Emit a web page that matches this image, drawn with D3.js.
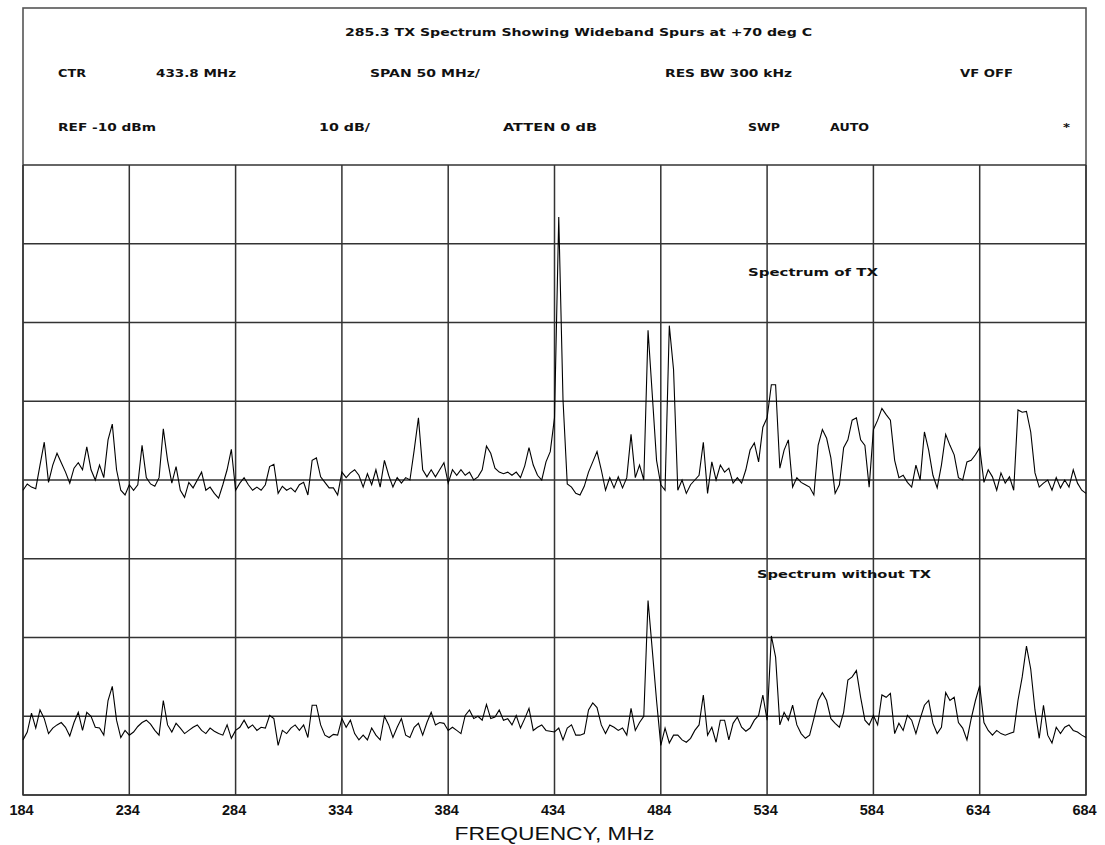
<!DOCTYPE html>
<html>
<head>
<meta charset="utf-8">
<script src="https://cdn.jsdelivr.net/npm/d3@7"></script>
<style>
  html, body { margin: 0; padding: 0; background: #fff; }
  svg { display: block; }
  .hdr { font-family: "DejaVu Sans", sans-serif; font-weight: bold; font-size: 11px; fill: #111; }
  .xtitle { font-family: "Liberation Sans", Arial, sans-serif; font-size: 19px; fill: #111; }
</style>
</head>
<body>
<svg id="chart" width="1105" height="845"></svg>
<script>
// Spectrum analyser sweep: 184–684 MHz, one reading every 2 MHz
const startMHz = 184;
const stepMHz = 2;

// Trace with the transmitter keyed (dBm)
const withTx = [
  -51.3,-50.5,-50.9,-51.1,-48.1,-45.2,-50.3,-48.1,-46.6,-47.8,
  -49.0,-50.4,-48.5,-47.8,-48.7,-45.8,-48.7,-50.0,-48.1,-49.7,
  -44.9,-42.9,-48.7,-51.3,-51.9,-50.6,-51.3,-50.6,-45.6,-49.7,
  -50.5,-50.8,-49.7,-43.5,-47.5,-50.4,-48.3,-51.3,-52.2,-50.3,
  -51.0,-50.0,-49.0,-51.3,-50.9,-51.7,-52.3,-50.6,-48.7,-46.1,
  -51.3,-50.4,-49.7,-50.6,-51.3,-50.9,-51.3,-50.6,-48.3,-48.0,
  -51.7,-50.8,-51.3,-51.0,-51.5,-50.6,-50.3,-51.9,-47.5,-47.2,
  -49.6,-50.3,-51.0,-51.0,-51.9,-49.0,-49.7,-49.1,-48.7,-49.4,
  -50.9,-49.2,-50.6,-48.7,-50.9,-47.5,-49.4,-50.9,-49.7,-50.4,
  -49.7,-50.0,-46.2,-42.1,-48.7,-49.6,-48.7,-49.6,-48.7,-47.8,
  -50.4,-48.7,-49.4,-48.7,-49.4,-49.0,-50.0,-49.6,-48.7,-45.7,
  -46.6,-48.5,-49.0,-49.2,-49.0,-49.4,-49.0,-49.7,-48.2,-45.9,
  -48.1,-49.4,-50.0,-47.7,-46.4,-42.1,-16.6,-39.8,-50.5,-50.9,
  -51.7,-51.9,-50.8,-49.0,-47.7,-46.4,-48.7,-51.3,-49.7,-51.0,
  -49.6,-51.0,-49.7,-44.2,-49.7,-48.1,-50.0,-31.0,-39.2,-47.5,
  -50.6,-51.3,-30.4,-36.0,-51.3,-50.0,-51.7,-50.6,-50.0,-49.4,
  -45.2,-51.7,-47.7,-50.0,-48.1,-49.0,-48.5,-50.4,-49.7,-50.4,
  -48.7,-46.2,-45.3,-47.7,-43.3,-42.1,-37.9,-37.9,-48.5,-46.2,
  -44.9,-50.9,-49.7,-50.3,-50.6,-50.9,-51.9,-45.6,-43.6,-44.7,
  -47.2,-51.7,-50.6,-45.9,-44.9,-42.4,-42.1,-44.9,-45.6,-50.9,
  -43.6,-42.4,-40.9,-41.7,-42.4,-47.5,-49.7,-49.4,-50.3,-50.9,
  -48.1,-50.0,-43.9,-46.2,-49.4,-51.0,-48.1,-44.2,-45.6,-46.8,
  -49.7,-50.0,-47.7,-47.5,-46.8,-45.9,-50.3,-48.7,-49.6,-51.3,
  -49.1,-50.4,-49.6,-51.3,-41.1,-41.4,-41.3,-43.9,-49.1,-50.9,
  -50.4,-50.0,-51.3,-49.7,-51.0,-50.0,-50.9,-48.7,-50.4,-51.3,
  -51.7
];

// Trace with the transmitter off (dBm)
const withoutTx = [
  -83.0,-82.0,-79.6,-81.5,-79.2,-80.3,-82.2,-81.5,-81.1,-80.8,
  -81.4,-82.5,-80.8,-79.5,-81.8,-79.5,-80.0,-81.4,-81.5,-82.4,
  -78.0,-76.2,-80.5,-82.7,-81.8,-82.4,-82.0,-81.3,-80.8,-80.5,
  -81.0,-81.8,-82.4,-78.0,-81.1,-82.0,-80.9,-81.5,-82.2,-81.8,
  -81.4,-81.1,-81.8,-82.2,-81.5,-81.9,-82.2,-82.4,-81.1,-82.8,
  -81.8,-81.4,-80.5,-81.5,-81.1,-81.8,-81.4,-81.5,-79.9,-80.3,
  -83.7,-81.8,-82.2,-81.5,-81.1,-81.8,-81.1,-82.7,-78.6,-78.6,
  -81.1,-82.4,-82.7,-82.3,-82.4,-80.3,-81.4,-80.5,-82.2,-83.0,
  -82.4,-83.0,-81.5,-82.4,-83.0,-80.0,-81.1,-82.7,-81.4,-80.3,
  -82.4,-82.7,-81.4,-80.9,-82.4,-80.8,-79.5,-81.1,-80.8,-80.9,
  -81.8,-81.4,-81.8,-82.2,-79.9,-79.2,-80.3,-80.0,-80.5,-78.5,
  -80.3,-80.1,-79.2,-80.5,-80.3,-81.1,-79.9,-81.5,-80.3,-79.0,
  -81.8,-81.4,-81.1,-81.8,-81.9,-82.0,-81.5,-83.0,-81.5,-81.1,
  -82.4,-82.4,-82.2,-79.2,-78.3,-78.9,-81.1,-82.2,-81.1,-81.4,
  -81.8,-81.5,-82.4,-79.0,-81.8,-80.8,-80.0,-65.3,-71.6,-78.0,
  -83.7,-81.5,-83.4,-82.4,-82.4,-83.0,-83.3,-82.8,-81.8,-81.1,
  -77.3,-82.4,-81.4,-83.3,-80.5,-80.5,-83.0,-80.9,-80.1,-81.4,
  -81.9,-81.5,-80.5,-79.9,-77.3,-80.5,-69.8,-72.5,-81.1,-79.5,
  -80.5,-78.6,-81.1,-82.2,-82.8,-82.4,-80.3,-78.0,-77.0,-78.0,
  -80.3,-80.9,-81.4,-79.5,-75.4,-75.0,-74.2,-77.6,-80.5,-81.1,
  -79.9,-81.1,-77.3,-77.6,-77.1,-82.2,-80.9,-81.8,-79.9,-80.5,
  -82.2,-80.3,-78.6,-78.0,-80.9,-82.2,-81.4,-77.0,-78.0,-77.6,
  -80.8,-81.5,-83.0,-80.3,-78.0,-76.1,-80.8,-81.8,-82.4,-81.8,
  -82.2,-82.4,-82.2,-82.0,-78.0,-75.0,-71.1,-74.0,-79.2,-82.8,
  -78.6,-82.4,-83.4,-81.4,-82.2,-81.4,-81.1,-81.8,-82.0,-82.4,
  -82.7
];

// Frequency axis labels (MHz) and vertical graticule (dBm, 10 dB/div)
const freqTicks = [184, 234, 284, 334, 384, 434, 484, 534, 584, 634, 684];
const levelTicks = [-10, -20, -30, -40, -50, -60, -70, -80, -90];

// Instrument settings printed above the graticule (left edge, printed width)
const titleText = { text: "285.3 TX Spectrum Showing Wideband Spurs at +70 deg C", x: 345, w: 467 };
const settingsRow1 = [
  { text: "CTR", x: 58, w: 28 },
  { text: "433.8 MHz", x: 156, w: 80 },
  { text: "SPAN 50 MHz/", x: 370, w: 110 },
  { text: "RES BW 300 kHz", x: 665, w: 127 },
  { text: "VF OFF", x: 960, w: 53 }
];
const settingsRow2 = [
  { text: "REF -10 dBm", x: 58, w: 98 },
  { text: "10 dB/", x: 319, w: 51 },
  { text: "ATTEN 0 dB", x: 503, w: 94 },
  { text: "SWP", x: 748, w: 32 },
  { text: "AUTO", x: 830, w: 39 },
  { text: "*", x: 1063, w: 7 }
];
// Annotations placed by frequency (MHz) and level (dBm)
const traceLabels = [
  { text: "Spectrum of TX", f: 525, level: -24.1, w: 130 },
  { text: "Spectrum without TX", f: 529.3, level: -62.4, w: 174 }
];

const svg = d3.select("#chart");
const plotLeft = 23, plotRight = 1086, plotTop = 165, plotBottom = 795, frameTop = 8;

const x = d3.scaleLinear().domain([184, 684]).range([plotLeft, plotRight]);
const y = d3.scaleLinear().domain([-10, -90]).range([plotTop, plotBottom]);

const gridColor = "#333";

// Header panel and frame
svg.append("rect")
  .attr("x", plotLeft).attr("y", frameTop)
  .attr("width", plotRight - plotLeft).attr("height", plotBottom - frameTop)
  .attr("fill", "none").attr("stroke", "#555").attr("stroke-width", 1.6);

// Graticule
const grid = svg.append("g");
grid.selectAll("line.v").data(freqTicks).join("line")
  .attr("class", "v")
  .attr("x1", d => x(d)).attr("x2", d => x(d))
  .attr("y1", plotTop).attr("y2", plotBottom)
  .attr("stroke", gridColor).attr("stroke-width", 1.5);
grid.selectAll("line.h").data(levelTicks).join("line")
  .attr("class", "h")
  .attr("x1", plotLeft).attr("x2", plotRight)
  .attr("y1", d => y(d)).attr("y2", d => y(d))
  .attr("stroke", gridColor).attr("stroke-width", 1.5);

// Traces
const freqOf = i => startMHz + i * stepMHz;
const line = d3.line().x((d, i) => x(freqOf(i))).y(d => y(d));
[withTx, withoutTx].forEach(series => {
  svg.append("path")
    .datum(series)
    .attr("d", line)
    .attr("fill", "none")
    .attr("stroke", "#000")
    .attr("stroke-width", 1.1)
    .attr("stroke-linejoin", "miter");
});

// Header text
function printed(sel) {
  return sel.attr("class", "hdr")
    .attr("textLength", d => d.w)
    .attr("lengthAdjust", "spacingAndGlyphs")
    .text(d => d.text);
}
svg.append("text").datum(titleText).attr("x", d => d.x).attr("y", 36).call(printed);
svg.append("g").selectAll("text").data(settingsRow1).join("text")
  .attr("x", d => d.x).attr("y", 77).call(printed);
svg.append("g").selectAll("text").data(settingsRow2).join("text")
  .attr("x", d => d.x).attr("y", 131).call(printed);

// Trace labels
svg.append("g").selectAll("text").data(traceLabels).join("text")
  .attr("x", d => x(d.f)).attr("y", d => y(d.level))
  .call(printed);

// Frequency axis labels
const axis = d3.axisBottom(x).tickValues(freqTicks).tickSize(0).tickPadding(0).tickFormat(d3.format("d"));
const axisG = svg.append("g").attr("transform", `translate(0, ${plotBottom})`).call(axis);
axisG.select(".domain").remove();
axisG.selectAll("text")
  .attr("fill", "#111")
  .attr("dx", -2)
  .attr("dy", 0)
  .attr("y", 20)
  .style("font-family", "'Liberation Sans', Arial, sans-serif")
  .style("font-weight", "bold")
  .style("font-size", "14.5px");

svg.append("text").attr("class", "xtitle")
  .attr("x", (plotLeft + plotRight) / 2).attr("y", 840)
  .attr("text-anchor", "middle")
  .attr("textLength", 200).attr("lengthAdjust", "spacingAndGlyphs")
  .text("FREQUENCY, MHz");
</script>
</body>
</html>
